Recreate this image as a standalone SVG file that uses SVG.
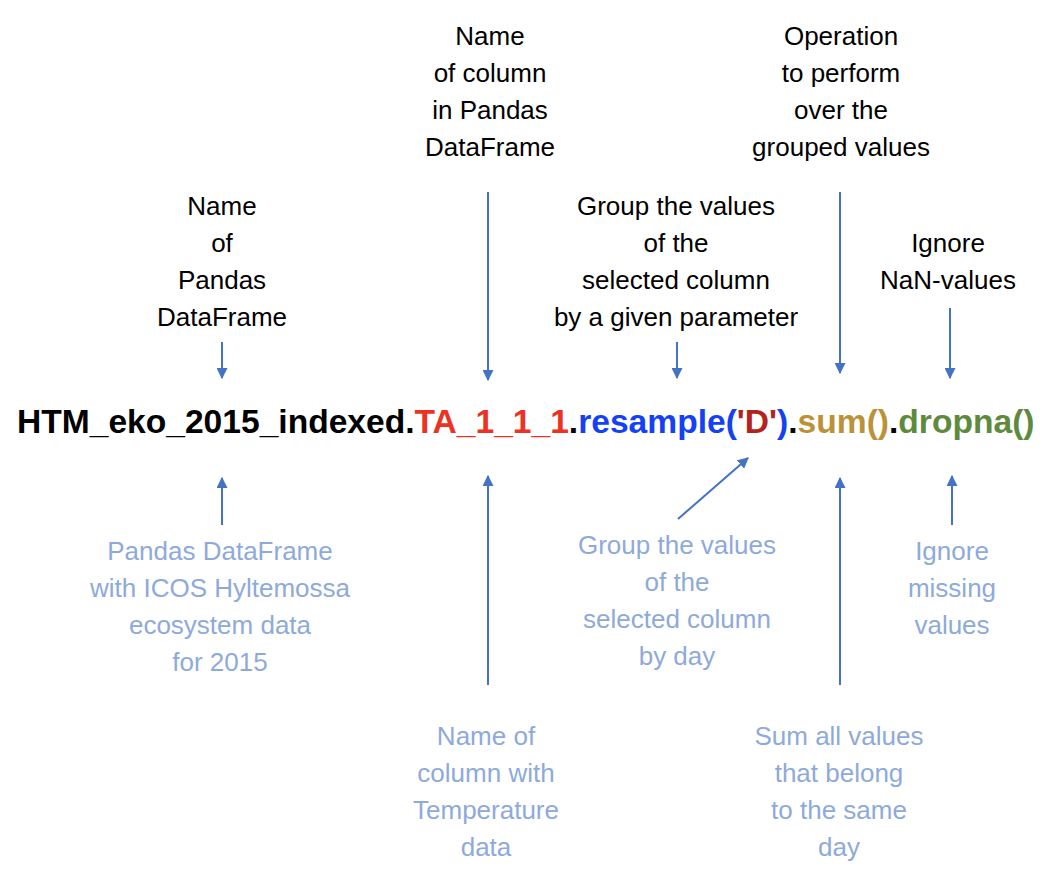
<svg xmlns="http://www.w3.org/2000/svg" width="1058" height="882" viewBox="0 0 1058 882">
<style>
.lbl{font-family:"Liberation Sans",Arial,sans-serif;font-size:26px;text-anchor:middle;fill:#000}
.sub{font-family:"Liberation Sans",Arial,sans-serif;font-size:26px;text-anchor:middle;fill:#8eaadb}
.code{font-family:"Liberation Sans",Arial,sans-serif;font-size:33.6px;font-weight:bold}
.arr{stroke:#4472c4;stroke-width:2;fill:none;marker-end:url(#ah)}
</style>
<defs>
<marker id="ah" viewBox="0 0 10 10" refX="9" refY="5" markerWidth="5.5" markerHeight="5.5" orient="auto" markerUnits="strokeWidth">
<path d="M0,0 L10,5 L0,10 z" fill="#4472c4"/>
</marker>
</defs>
<rect width="1058" height="882" fill="#fff"/>
<g id="code">
<text class="code" x="17" y="433"><tspan fill="#000">HTM_eko_2015_indexed.</tspan><tspan fill="#ea3323">TA_1_1_1</tspan><tspan fill="#000">.</tspan><tspan fill="#1541f5">resample(</tspan><tspan fill="#b3231e">'D'</tspan><tspan fill="#1541f5">)</tspan><tspan fill="#000">.</tspan><tspan fill="#bb9237">sum()</tspan><tspan fill="#000">.</tspan><tspan fill="#5e8a3e">dropna()</tspan></text>
</g>
<g id="lbl-dataframe">
<text class="lbl" x="222" y="215">Name</text>
<text class="lbl" x="222" y="252">of</text>
<text class="lbl" x="222" y="289">Pandas</text>
<text class="lbl" x="222" y="326">DataFrame</text>
</g>
<g id="lbl-column">
<text class="lbl" x="490" y="45">Name</text>
<text class="lbl" x="490" y="82">of column</text>
<text class="lbl" x="490" y="119">in Pandas</text>
<text class="lbl" x="490" y="156">DataFrame</text>
</g>
<g id="lbl-group">
<text class="lbl" x="676" y="215">Group the values</text>
<text class="lbl" x="676" y="252">of the</text>
<text class="lbl" x="676" y="289">selected column</text>
<text class="lbl" x="676" y="326">by a given parameter</text>
</g>
<g id="lbl-operation">
<text class="lbl" x="841" y="45">Operation</text>
<text class="lbl" x="841" y="82">to perform</text>
<text class="lbl" x="841" y="119">over the</text>
<text class="lbl" x="841" y="156">grouped values</text>
</g>
<g id="lbl-ignore">
<text class="lbl" x="948" y="252">Ignore</text>
<text class="lbl" x="948" y="289">NaN-values</text>
</g>
<g id="sub-dataframe">
<text class="sub" x="220" y="560">Pandas DataFrame</text>
<text class="sub" x="220" y="597">with ICOS Hyltemossa</text>
<text class="sub" x="220" y="634">ecosystem data</text>
<text class="sub" x="220" y="671">for 2015</text>
</g>
<g id="sub-group">
<text class="sub" x="677" y="554">Group the values</text>
<text class="sub" x="677" y="591">of the</text>
<text class="sub" x="677" y="628">selected column</text>
<text class="sub" x="677" y="665">by day</text>
</g>
<g id="sub-ignore">
<text class="sub" x="952" y="560">Ignore</text>
<text class="sub" x="952" y="597">missing</text>
<text class="sub" x="952" y="634">values</text>
</g>
<g id="sub-column">
<text class="sub" x="486" y="745">Name of</text>
<text class="sub" x="486" y="782">column with</text>
<text class="sub" x="486" y="819">Temperature</text>
<text class="sub" x="486" y="856">data</text>
</g>
<g id="sub-sum">
<text class="sub" x="839" y="745">Sum all values</text>
<text class="sub" x="839" y="782">that belong</text>
<text class="sub" x="839" y="819">to the same</text>
<text class="sub" x="839" y="856">day</text>
</g>
<g id="connectors">
<line class="arr" x1="222" y1="342" x2="222" y2="378"/>
<line class="arr" x1="488" y1="192" x2="488" y2="380"/>
<line class="arr" x1="677" y1="342" x2="677" y2="378"/>
<line class="arr" x1="840" y1="192" x2="840" y2="373"/>
<line class="arr" x1="950" y1="308" x2="950" y2="378"/>
<line class="arr" x1="222" y1="525" x2="222" y2="478"/>
<line class="arr" x1="488" y1="685" x2="488" y2="476"/>
<line class="arr" x1="678" y1="519" x2="748" y2="458"/>
<line class="arr" x1="840" y1="685" x2="840" y2="478"/>
<line class="arr" x1="952" y1="525" x2="952" y2="476"/>
</g>
</svg>
